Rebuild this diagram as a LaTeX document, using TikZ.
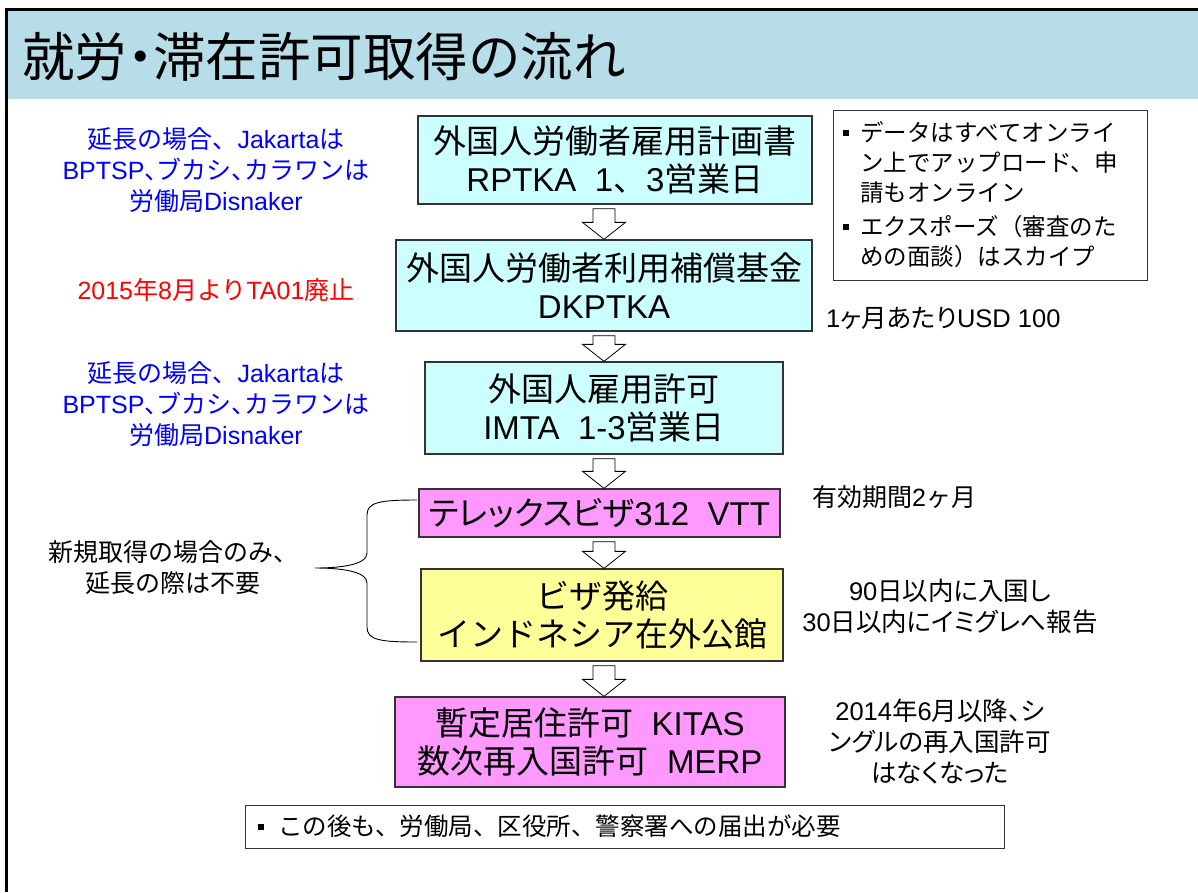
\documentclass[tikz,border=0pt]{standalone}
\usepackage{fontspec}
\setmainfont{Liberation Sans}
\newfontfamily\jp{Noto Sans CJK JP}
\newfontfamily\jpp{Noto Sans CJK JP}[RawFeature=+palt]
\usetikzlibrary{calc}
\newcommand\J[1]{{\jp #1}}
\newcommand\JP[1]{{\jpp #1}}
\newcommand\fsz[2]{\fontsize{#1}{#2}\selectfont}
\newcommand\bul{\rule[6pt]{6pt}{6pt}}
\definecolor{band}{HTML}{B7DDE8}
\definecolor{cyanbox}{HTML}{CCFFFF}
\definecolor{pinkbox}{HTML}{FF99FF}
\definecolor{yellowbox}{HTML}{FFFF99}
\definecolor{noteblue}{HTML}{0000FF}
\definecolor{notered}{HTML}{FF0000}
\definecolor{edge}{HTML}{333333}
\tikzset{
  stepbox/.style={draw=edge, line width=1.3pt, align=center, inner sep=0pt,
    font=\fsz{33}{38}},
  note/.style={align=center, inner sep=0pt, font=\fsz{25}{31}},
  pnote/.style={align=center, inner sep=0pt, font=\fsz{25.5}{31}},
  infobox/.style={draw=edge, line width=1pt, align=left},
  hollow/.style={draw=black, line width=0.8pt, fill=white},
}
\newcommand\blockarrow[2]{%
  \draw[hollow] let \p1=(ax |- #1.south), \p2=(ax |- #2.north) in
    (\x1-11pt,\y1-4pt) -- (\x1+11pt,\y1-4pt) -- (\x1+11pt,\y2+17pt)
    -- (\x1+21.5pt,\y2+17pt) -- (\x2,\y2) -- (\x1-21.5pt,\y2+17pt)
    -- (\x1-11pt,\y2+17pt) -- cycle;}
\begin{document}
\begin{tikzpicture}[x=1pt,y=-1pt]
\useasboundingbox (0,0) rectangle (1198,892);
% title band and frame
\fill[band] (7,10) rectangle (1198,99);
\draw[line width=2.5pt] (6.5,892) -- (6.5,9.5) -- (1198,9.5);
\node[anchor=west, inner sep=0pt, font=\fsz{52.5}{60}] (title) at (22,57)
  {\J{就労}\JP{・}\J{滞在許可取得の流れ}};

% flow boxes
\node[stepbox, fill=cyanbox, minimum width=394, minimum height=88] (b1) at (615,160)
  {\J{外国人労働者雇用計画書}\\RPTKA\ \ 1\J{、}3\J{営業日}};
\node[stepbox, fill=cyanbox, minimum width=416, minimum height=91] (b2) at (604,285.5)
  {\J{外国人労働者利用補償基金}\\DKPTKA};
\node[stepbox, fill=cyanbox, minimum width=358, minimum height=92] (b3) at (604,408)
  {\J{外国人雇用許可}\\IMTA\ \ 1-3\J{営業日}};
\node[stepbox, fill=pinkbox, minimum width=361, minimum height=48] (b4) at (599.5,513)
  {\JP{テレックスビザ}312\ \ VTT};
\node[stepbox, fill=yellowbox, minimum width=362, minimum height=92] (b5) at (602,615)
  {\J{ビザ発給}\\\J{インドネシア在外公館}};
\node[stepbox, fill=pinkbox, minimum width=390, minimum height=90] (b6) at (590,742)
  {\J{暫定居住許可}\ \ KITAS\\\J{数次再入国許可}\ \ MERP};

% hollow arrows
\coordinate (ax) at (604,0);
\blockarrow{b1}{b2}
\blockarrow{b2}{b3}
\blockarrow{b3}{b4}
\blockarrow{b4}{b5}
\blockarrow{b5}{b6}

% left notes
\node[note, text=noteblue] (n1) at (216,170)
  {\J{延長の場合、}Jakarta\J{は}\\BPTSP\JP{、}\J{ブカシ}\JP{、}\J{カラワンは}\\\J{労働局}Disnaker};
\node[note, text=notered] (n2) at (216,290)
  {2015\J{年}8\J{月より}TA01\J{廃止}};
\node[note, text=noteblue] (n3) at (216,404)
  {\J{延長の場合、}Jakarta\J{は}\\BPTSP\JP{、}\J{ブカシ}\JP{、}\J{カラワンは}\\\J{労働局}Disnaker};
\node[note] (n4) at (173,568)
  {\J{新規取得の場合のみ、}\\\J{延長の際は不要}};

% brace
\draw[line width=0.9pt] (417,500) .. controls (380,500) and (367,502) .. (367,515)
  -- (367,553) .. controls (367,565) and (340,568) .. (315,568)
  .. controls (340,568) and (367,571) .. (367,583)
  -- (367,627) .. controls (367,640) and (380,642) .. (417,642);

% right notes
\node[infobox, minimum width=314, minimum height=170, text width=294, inner xsep=10pt,
  font=\fsz{23.5}{30}] (info) at (990,195)
  {\bul\hspace{11pt}\J{データはすべてオンライ}\\
   \hspace*{17pt}\J{ン上でアップロード、申}\\
   \hspace*{17pt}\J{請もオンライン}\\[4pt]
   \bul\hspace{11pt}\J{エクスポーズ（審査のた}\\
   \hspace*{17pt}\J{めの面談）はスカイプ}};
\node[pnote, anchor=west] (n5) at (826,318) {1\JP{ヶ月あたり}USD 100};
\node[note, anchor=west] (n6) at (812,497) {\J{有効期間}2\J{ヶ月}};
\node[pnote] (n7) at (950,606) {90\JP{日以内に入国し}\\30\JP{日以内にイミグレへ報告}};
\node[pnote] (n8) at (940,742) {2014\JP{年}6\JP{月以降、シ}\\\JP{ングルの再入国許可}\\\JP{はなくなった}};

% bottom box
\node[infobox, minimum width=759, minimum height=43, text width=733, inner xsep=13pt,
  font=\fsz{24.5}{30}] (after) at (624.5,826.5)
  {\bul\hspace{14pt}\J{この後も、労働局、区役所、警察署への届出が必要}};
\end{tikzpicture}
\end{document}
